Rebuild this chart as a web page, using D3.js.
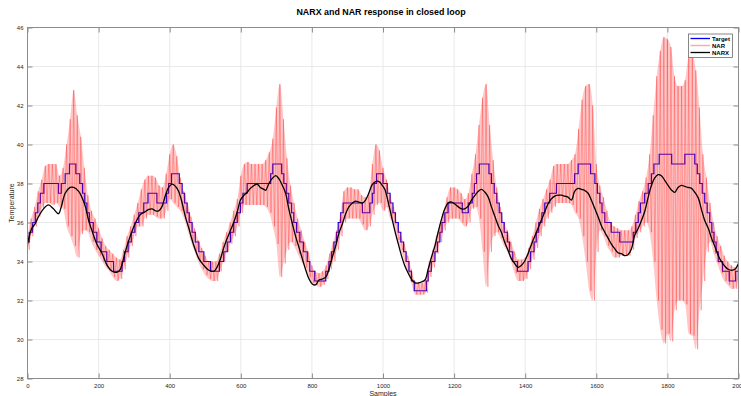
<!DOCTYPE html>
<html>
<head>
<meta charset="utf-8">
<script src="https://cdn.jsdelivr.net/npm/d3@7"></script>
<style>
  html, body { margin: 0; padding: 0; background: #fff; }
  #chart { width: 741px; height: 396px; }
  text { font-family: "Liberation Sans", Arial, Helvetica, sans-serif; }
</style>
</head>
<body>
<div id="chart"></div>
<script>
// ---- data ----
const xTicks = [0, 200, 400, 600, 800, 1000, 1200, 1400, 1600, 1800, 2000];
const yTicks = [28, 30, 32, 34, 36, 38, 40, 42, 44, 46];

// Target: [sample where the step starts, level]
const target = [
  [0, 35.0], [5, 35.5], [14, 36], [22, 36.5], [29, 37], [36, 37.5], [46, 38], [87, 37.5], [95, 38],
  [106, 38.5], [118, 39], [136, 38.5], [147, 38], [155, 37.5], [161, 37], [167, 36.5], [174, 36],
  [185, 35.5], [195, 35], [207, 34.5], [223, 34], [242, 33.5], [266, 34], [273, 34.5], [283, 35],
  [292, 35.5], [302, 36], [313, 36.5], [327, 37], [339, 37.5], [364, 37], [391, 37.5], [397, 38],
  [405, 38.5], [427, 38], [435, 37.5], [442, 37], [449, 36.5], [455, 36], [463, 35.5], [472, 35],
  [482, 34.5], [496, 34], [515, 33.5], [540, 34], [552, 34.5], [562, 35], [571, 35.5], [580, 36],
  [590, 36.5], [599, 37], [606, 37.5], [618, 38], [684, 38.5], [690, 39], [715, 38.5], [721, 38],
  [728, 37.5], [735, 37], [743, 36.5], [749, 36], [757, 35.5], [766, 35], [776, 34.5], [787, 34],
  [794, 33.5], [808, 33], [839, 33.5], [848, 34], [855, 34.5], [862, 35], [869, 35.5], [874, 36],
  [881, 36.5], [888, 37], [942, 36.5], [963, 37], [970, 37.5], [975, 38], [982, 38.5], [1000, 38],
  [1012, 37.5], [1020, 37], [1028, 36.5], [1035, 36], [1043, 35.5], [1050, 35], [1058, 34.5],
  [1065, 34], [1073, 33.5], [1080, 33], [1088, 32.5], [1122, 33], [1127, 33.5], [1136, 34],
  [1146, 34.5], [1153, 35], [1160, 35.5], [1166, 36], [1174, 36.5], [1183, 37], [1223, 36.5],
  [1240, 37], [1251, 37.5], [1257, 38], [1263, 38.5], [1271, 39], [1298, 38.5], [1305, 38],
  [1313, 37.5], [1320, 37], [1327, 36.5], [1334, 36], [1341, 35.5], [1350, 35], [1356, 34.5],
  [1365, 34], [1378, 33.5], [1408, 34], [1415, 34.5], [1425, 35], [1431, 35.5], [1438, 36],
  [1447, 36.5], [1455, 37], [1469, 37.5], [1488, 38], [1539, 38.5], [1549, 39], [1584, 38.5],
  [1596, 38], [1603, 37.5], [1610, 37], [1616, 36.5], [1624, 36], [1642, 35.5], [1666, 35],
  [1704, 35.5], [1711, 36], [1718, 36.5], [1724, 37], [1736, 37.5], [1746, 38], [1755, 38.5],
  [1762, 39], [1777, 39.5], [1812, 39], [1849, 39.5], [1877, 39], [1884, 38.5], [1891, 38],
  [1898, 37.5], [1905, 37], [1912, 36.5], [1919, 36], [1925, 35.5], [1931, 35], [1937, 34.5],
  [1943, 34], [1955, 33.5], [1974, 33], [1992, 33.5], [2000, 33.5]
];

// NAR oscillation: top and bottom of the swing every 10 samples (0..2000)
const narHigh = [
  35.3, 36.2, 36.8, 37.6, 38.2, 38.9, 39.0, 39.0, 39.0, 38.4, 38.8, 40.0, 41.3, 42.8, 41.5, 40.4, 38.8, 37.4, 36.6, 36.2,
  35.7, 35.2, 34.8, 34.6, 34.4, 34.2, 34.1, 34.6, 35.3, 35.8, 36.4, 37.0, 37.7, 38.2, 38.4, 38.4, 38.3, 37.9, 37.8, 38.5,
  39.5, 40.0, 39.4, 38.3, 37.6, 37.0, 36.3, 35.7, 35.1, 34.7, 34.3, 34.0, 34.0, 34.0, 34.4, 35.0, 35.5, 36.0, 36.6, 37.2,
  38.4, 39.0, 39.1, 39.0, 39.0, 39.0, 39.0, 39.2, 39.6, 40.3, 41.9, 43.1, 41.3, 39.3, 37.9, 37.0, 36.2, 35.6, 35.0, 34.5,
  33.8, 33.5, 33.4, 33.5, 33.8, 34.4, 35.0, 35.6, 36.4, 37.6, 37.8, 37.8, 37.7, 37.7, 37.4, 37.3, 37.5, 39.0, 40.0, 39.7,
  38.8, 38.2, 37.4, 36.8, 36.0, 35.4, 34.9, 34.3, 33.6, 33.0, 32.9, 32.9, 33.1, 34.0, 34.6, 35.3, 35.9, 36.6, 37.3, 37.8,
  37.8, 37.7, 37.5, 37.2, 37.5, 38.5, 39.5, 41.0, 42.4, 43.1, 41.0, 39.2, 37.8, 36.8, 36.0, 35.6, 35.0, 34.5, 34.1, 34.1,
  34.2, 34.7, 35.3, 36.0, 36.7, 37.2, 37.7, 38.2, 38.9, 39.0, 39.0, 39.0, 39.0, 39.2, 39.5, 40.8, 42.3, 43.0, 43.1, 42.0,
  39.0, 37.9, 37.3, 36.6, 36.0, 35.8, 35.7, 35.6, 35.6, 35.6, 35.8, 36.4, 37.1, 37.6, 38.3, 39.5, 41.5, 43.5, 44.8, 45.5,
  45.4, 45.0, 43.5, 43.0, 43.0, 43.3, 44.5, 44.6, 43.8, 41.9, 39.5, 38.3, 37.0, 36.0, 35.3, 34.8, 34.3, 34.0, 33.8, 33.7,
  34.0
];
const narLow = [
  34.6, 35.3, 35.8, 36.3, 36.7, 37.0, 37.0, 36.9, 37.0, 36.8, 36.7, 35.8, 35.3, 34.8, 34.2, 35.4, 35.6, 35.5, 35.0, 34.6,
  34.3, 34.0, 33.7, 33.5, 33.2, 33.0, 33.1, 33.6, 34.2, 34.8, 35.3, 35.8, 35.8, 36.2, 36.4, 36.4, 36.3, 36.2, 36.2, 36.6,
  37.2, 37.0, 36.8, 36.6, 36.2, 35.6, 35.0, 34.5, 34.0, 33.6, 33.3, 33.1, 33.0, 33.0, 33.5, 34.0, 34.5, 34.9, 35.3, 35.8,
  36.5, 36.9, 36.9, 36.9, 36.9, 36.9, 36.9, 36.8, 36.5, 35.8, 34.9, 33.2, 33.9, 34.6, 35.0, 34.8, 34.4, 34.0, 33.7, 33.2,
  32.9, 32.8, 32.7, 32.8, 33.1, 33.6, 34.0, 34.6, 35.3, 36.0, 36.2, 36.2, 36.2, 36.2, 35.9, 35.6, 35.8, 36.4, 36.9, 37.0,
  36.6, 36.8, 36.2, 35.9, 35.1, 34.6, 34.0, 33.4, 32.9, 32.3, 32.3, 32.3, 32.4, 33.2, 33.7, 34.4, 35.0, 35.6, 36.0, 36.2,
  36.2, 36.2, 36.0, 35.8, 36.0, 36.7, 36.8, 36.2, 34.5, 32.7, 34.5, 35.3, 35.5, 35.2, 34.8, 34.5, 34.0, 33.4, 33.0, 33.0,
  33.1, 33.6, 34.1, 34.7, 35.3, 35.8, 36.2, 36.5, 36.8, 37.0, 37.0, 37.0, 37.0, 36.9, 36.5, 36.2, 35.3, 34.0, 32.5, 32.0,
  34.5, 35.6, 35.3, 34.8, 34.5, 34.2, 34.2, 34.3, 34.3, 34.3, 34.6, 35.2, 35.5, 35.8, 36.0, 35.5, 34.0, 32.0, 30.5, 29.8,
  30.3, 29.9, 31.5, 32.0, 32.0, 31.8, 30.3, 30.2, 29.5, 31.5, 33.0, 34.5, 35.0, 34.4, 33.9, 33.4, 33.0, 32.8, 32.6, 32.6,
  33.2
];
const narStep = 10;

// NARX: [sample, value]
const narx = [
  [0, 34.9], [12, 35.7], [22, 35.95], [31, 36.3], [45, 36.7], [59, 36.9], [73, 36.7], [87, 36.45], [95, 36.8],
  [106, 37.5], [120, 37.8], [130, 37.8], [144, 37.6], [153, 37.3], [163, 36.8], [172, 36.1], [181, 35.6],
  [195, 34.9], [210, 34.4], [224, 33.8], [238, 33.5], [252, 33.45], [261, 33.6], [275, 34.5], [289, 35.3],
  [303, 35.95], [317, 36.4], [331, 36.55], [341, 36.67], [350, 36.7], [360, 36.6], [369, 36.6], [378, 36.8],
  [388, 37.4], [397, 37.8], [407, 37.97], [416, 37.86], [425, 37.6], [435, 37.0], [444, 36.3], [454, 35.7],
  [463, 35.1], [472, 34.6], [482, 34.15], [496, 33.8], [510, 33.55], [524, 33.5], [533, 33.7], [543, 34.15],
  [552, 34.7], [562, 35.2], [571, 35.6], [580, 36.0], [590, 36.55], [599, 37.15], [609, 37.4], [618, 37.55],
  [627, 37.75], [637, 37.9], [646, 37.97], [655, 37.8], [665, 37.7], [670, 37.65], [679, 38.0], [688, 38.25],
  [698, 38.4], [707, 38.25], [717, 37.9], [726, 37.5], [735, 36.7], [745, 35.95], [754, 35.3], [764, 34.7],
  [773, 34.15], [782, 33.6], [792, 33.1], [801, 32.85], [810, 32.8], [820, 33.05], [829, 33.1], [839, 33.2],
  [848, 33.6], [857, 34.2], [867, 34.8], [876, 35.45], [886, 35.95], [895, 36.45], [904, 36.8], [914, 37.0],
  [923, 37.1], [932, 37.05], [942, 37.0], [951, 37.15], [961, 37.55], [970, 37.95], [979, 38.1], [989, 38.1],
  [998, 37.9], [1005, 37.7], [1014, 37.1], [1024, 36.3], [1033, 35.6], [1043, 34.9], [1052, 34.3], [1061, 33.8],
  [1071, 33.4], [1080, 33.1], [1090, 32.9], [1099, 32.9], [1108, 32.95], [1118, 33.05], [1127, 33.6],
  [1136, 34.2], [1146, 34.8], [1155, 35.5], [1165, 36.2], [1174, 36.7], [1183, 37.0], [1193, 37.05],
  [1202, 36.95], [1212, 36.8], [1221, 36.7], [1230, 36.7], [1240, 36.85], [1249, 37.15], [1259, 37.4],
  [1268, 37.6], [1277, 37.7], [1287, 37.55], [1296, 37.3], [1305, 36.8], [1315, 36.3], [1324, 35.85],
  [1334, 35.45], [1342, 35.0], [1351, 34.6], [1361, 34.15], [1370, 33.9], [1380, 33.7], [1389, 33.8],
  [1398, 34.0], [1408, 34.4], [1417, 34.85], [1427, 35.3], [1436, 35.7], [1445, 36.1], [1455, 36.55],
  [1464, 36.95], [1473, 37.2], [1483, 37.35], [1492, 37.4], [1502, 37.4], [1511, 37.35], [1520, 37.3],
  [1530, 37.15], [1534, 37.3], [1539, 37.6], [1549, 37.75], [1558, 37.7], [1567, 37.65], [1577, 37.5],
  [1586, 37.15], [1596, 36.7], [1605, 36.3], [1614, 35.85], [1624, 35.5], [1633, 35.2], [1642, 34.9],
  [1652, 34.65], [1661, 34.45], [1671, 34.4], [1680, 34.3], [1689, 34.35], [1699, 34.65], [1708, 35.35],
  [1718, 35.7], [1727, 36.1], [1736, 36.55], [1746, 37.3], [1755, 37.9], [1765, 38.3], [1774, 38.45],
  [1783, 38.4], [1793, 38.15], [1802, 37.9], [1812, 37.65], [1821, 37.55], [1830, 37.8], [1840, 37.9],
  [1849, 37.85], [1858, 37.8], [1868, 37.75], [1877, 37.55], [1887, 37.25], [1896, 36.65], [1905, 36.1],
  [1915, 35.7], [1924, 35.2], [1934, 34.75], [1943, 34.3], [1952, 34.0], [1962, 33.75], [1971, 33.6],
  [1981, 33.55], [1990, 33.6], [2000, 33.9]
];

const seriesNames = ['Target', 'NAR', 'NARX'];

// ---- drawing ----
const W = 741, H = 396;
const margin = { top: 27.5, right: 2.5, bottom: 17.5, left: 27.5 };
const width = W - margin.left - margin.right;
const height = H - margin.top - margin.bottom;

const colors = { Target: '#0000ff', NAR: 'rgba(255,0,0,0.35)', NARX: '#000000' };

const svg = d3.select('#chart').append('svg')
  .attr('width', W).attr('height', H);

const g = svg.append('g').attr('transform', `translate(${margin.left},${margin.top})`);

const x = d3.scaleLinear().domain([0, 2000]).range([0, width]);
const y = d3.scaleLinear().domain([28, 46]).range([height, 0]);

// grid
g.append('g').attr('class', 'grid')
  .selectAll('line.gx').data(xTicks).enter().append('line')
  .attr('x1', d => x(d)).attr('x2', d => x(d)).attr('y1', 0).attr('y2', height)
  .attr('stroke', '#e4e4e4').attr('stroke-width', 0.8);
g.append('g').attr('class', 'grid')
  .selectAll('line.gy').data(yTicks).enter().append('line')
  .attr('x1', 0).attr('x2', width).attr('y1', d => y(d)).attr('y2', d => y(d))
  .attr('stroke', '#e4e4e4').attr('stroke-width', 0.8);

const plot = g.append('g');

// Target staircase
plot.append('path')
  .datum(target)
  .attr('d', d3.line().x(d => x(d[0])).y(d => y(d[1])).curve(d3.curveStepAfter))
  .attr('fill', 'none').attr('stroke', colors.Target).attr('stroke-width', 1.2);

// NAR: the dense swing shows as a pale band between its top and bottom ...
plot.append('path')
  .datum(narHigh.map((h, i) => ({ s: i * narStep, h, l: narLow[i] })))
  .attr('d', d3.area().x(d => x(d.s)).y0(d => y(d.l)).y1(d => y(d.h)).curve(d3.curveMonotoneX))
  .attr('fill', 'rgba(255,0,0,0.22)').attr('stroke', 'none');

// ... with the swing itself drawn on top, alternating top / bottom
const narPts = [];
narHigh.forEach((h, i) => {
  narPts.push([i * narStep, h]);
  if (i * narStep + narStep / 2 <= 2000) narPts.push([i * narStep + narStep / 2, narLow[i]]);
});
plot.append('path')
  .datum(narPts)
  .attr('d', d3.line().x(d => x(d[0])).y(d => y(d[1])))
  .attr('fill', 'none').attr('stroke', colors.NAR).attr('stroke-width', 0.8);

// NARX
plot.append('path')
  .datum(narx)
  .attr('d', d3.line().x(d => x(d[0])).y(d => y(d[1])).curve(d3.curveCatmullRom))
  .attr('fill', 'none').attr('stroke', colors.NARX).attr('stroke-width', 1.3);

// axes (MATLAB style box with inward ticks)
const axisColor = '#8c8c8c';
const tickLen = 5;
const styleAxis = sel => {
  sel.select('.domain').remove();
  sel.selectAll('.tick line').attr('stroke', axisColor);
  sel.selectAll('.tick text').attr('fill', '#262626').style('font-size', '6px');
};

g.append('g').attr('transform', `translate(0,${height})`)
  .call(d3.axisBottom(x).tickValues(xTicks).tickSizeInner(-tickLen).tickSizeOuter(0).tickPadding(5).tickFormat(d3.format('d')))
  .call(styleAxis);
g.append('g')
  .call(d3.axisTop(x).tickValues(xTicks).tickSizeInner(-tickLen).tickSizeOuter(0).tickFormat(''))
  .call(styleAxis);
g.append('g')
  .call(d3.axisLeft(y).tickValues(yTicks).tickSizeInner(-tickLen).tickSizeOuter(0).tickPadding(4).tickFormat(d3.format('d')))
  .call(styleAxis);
g.append('g').attr('transform', `translate(${width},0)`)
  .call(d3.axisRight(y).tickValues(yTicks).tickSizeInner(-tickLen).tickSizeOuter(0).tickFormat(''))
  .call(styleAxis);

g.append('rect')
  .attr('x', 0).attr('y', 0).attr('width', width).attr('height', height)
  .attr('fill', 'none').attr('stroke', axisColor).attr('stroke-width', 1);

// labels
svg.append('text')
  .attr('x', margin.left + width / 2 - 2).attr('y', 15)
  .attr('text-anchor', 'middle').style('font-size', '8.9px').style('font-weight', 'bold').attr('fill', '#000')
  .text('NARX and NAR response in closed loop');
svg.append('text')
  .attr('x', margin.left + width / 2).attr('y', 395.5)
  .attr('text-anchor', 'middle').style('font-size', '7px').attr('fill', '#262626')
  .text('Samples');
svg.append('text')
  .attr('transform', `translate(13.5,${margin.top + height / 2}) rotate(-90)`)
  .attr('text-anchor', 'middle').style('font-size', '7px').attr('fill', '#262626')
  .text('Temperature');

// legend
const lg = svg.append('g').attr('transform', 'translate(688.5,34)');
lg.append('rect').attr('width', 44).attr('height', 23.5)
  .attr('fill', '#fff').attr('stroke', '#6a6a6a').attr('stroke-width', 0.8);
const item = lg.selectAll('.legend').data(seriesNames).enter().append('g')
  .attr('class', 'legend')
  .attr('transform', (d, i) => `translate(0,${4.5 + i * 7})`);
item.append('line')
  .attr('x1', 2).attr('x2', 21.5).attr('y1', 0).attr('y2', 0)
  .attr('stroke', d => colors[d]).attr('stroke-width', d => d === 'NAR' ? 1.4 : 1.3);
item.append('text')
  .attr('x', 23.5).attr('y', 0).attr('dy', '0.35em')
  .style('font-size', '6px').style('font-weight', 'bold').attr('fill', '#000')
  .text(d => d);
</script>
</body>
</html>
